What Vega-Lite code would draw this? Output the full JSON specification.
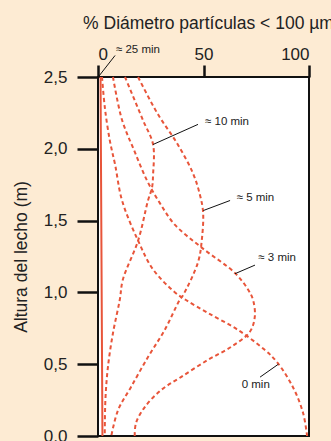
{
  "$schema": "https://vega.github.io/schema/vega-lite/v6.json",
  "width": 211,
  "height": 359,
  "autosize": {"type": "none"},
  "padding": {"left": 98, "top": 77, "right": 22, "bottom": 5},
  "background": "#FDEBD3",
  "config": {
    "view": {"fill": "white", "stroke": "#111", "strokeWidth": 2},
    "font": "Liberation Sans"
  },
  "datasets": {
    "curves": [
      {"s": "25", "o": 1, "x": 1.2, "y": 2.5},
      {"s": "25", "o": 2, "x": 2.1, "y": 0.0},

      {"s": "0", "o": 1, "x": 1.9, "y": 2.5},
      {"s": "0", "o": 2, "x": 3.3, "y": 2.28},
      {"s": "0", "o": 3, "x": 5.7, "y": 2.05},
      {"s": "0", "o": 4, "x": 8.1, "y": 1.89},
      {"s": "0", "o": 5, "x": 11.4, "y": 1.64},
      {"s": "0", "o": 6, "x": 19.0, "y": 1.36},
      {"s": "0", "o": 7, "x": 26.1, "y": 1.16},
      {"s": "0", "o": 8, "x": 36.5, "y": 1.0},
      {"s": "0", "o": 9, "x": 41.7, "y": 0.947},
      {"s": "0", "o": 10, "x": 52.1, "y": 0.857},
      {"s": "0", "o": 11, "x": 66.4, "y": 0.738},
      {"s": "0", "o": 12, "x": 79.0, "y": 0.6},
      {"s": "0", "o": 13, "x": 84.8, "y": 0.515},
      {"s": "0", "o": 14, "x": 92.4, "y": 0.34},
      {"s": "0", "o": 15, "x": 97.2, "y": 0.16},
      {"s": "0", "o": 16, "x": 99.1, "y": 0.0},

      {"s": "3", "o": 1, "x": 7.1, "y": 2.5},
      {"s": "3", "o": 2, "x": 11.4, "y": 2.2},
      {"s": "3", "o": 3, "x": 17.1, "y": 1.99},
      {"s": "3", "o": 4, "x": 23.2, "y": 1.78},
      {"s": "3", "o": 5, "x": 29.4, "y": 1.62},
      {"s": "3", "o": 6, "x": 36.5, "y": 1.47},
      {"s": "3", "o": 7, "x": 49.3, "y": 1.31},
      {"s": "3", "o": 8, "x": 64.9, "y": 1.135},
      {"s": "3", "o": 9, "x": 71.1, "y": 1.02},
      {"s": "3", "o": 10, "x": 73.5, "y": 0.947},
      {"s": "3", "o": 11, "x": 74.3, "y": 0.829},
      {"s": "3", "o": 12, "x": 71.9, "y": 0.724},
      {"s": "3", "o": 13, "x": 63.0, "y": 0.62},
      {"s": "3", "o": 14, "x": 52.1, "y": 0.53},
      {"s": "3", "o": 15, "x": 39.3, "y": 0.41},
      {"s": "3", "o": 16, "x": 29.9, "y": 0.32},
      {"s": "3", "o": 17, "x": 22.1, "y": 0.2},
      {"s": "3", "o": 18, "x": 18.0, "y": 0.09},
      {"s": "3", "o": 19, "x": 17.4, "y": 0.0},

      {"s": "5", "o": 1, "x": 19.0, "y": 2.5},
      {"s": "5", "o": 2, "x": 28.4, "y": 2.24},
      {"s": "5", "o": 3, "x": 37.4, "y": 2.04},
      {"s": "5", "o": 4, "x": 45.0, "y": 1.83},
      {"s": "5", "o": 5, "x": 48.3, "y": 1.68},
      {"s": "5", "o": 6, "x": 49.8, "y": 1.56},
      {"s": "5", "o": 7, "x": 49.3, "y": 1.38},
      {"s": "5", "o": 8, "x": 47.4, "y": 1.21},
      {"s": "5", "o": 9, "x": 40.3, "y": 0.98},
      {"s": "5", "o": 10, "x": 38.7, "y": 0.947},
      {"s": "5", "o": 11, "x": 31.6, "y": 0.738},
      {"s": "5", "o": 12, "x": 23.7, "y": 0.55},
      {"s": "5", "o": 13, "x": 15.6, "y": 0.34},
      {"s": "5", "o": 14, "x": 9.5, "y": 0.18},
      {"s": "5", "o": 15, "x": 6.3, "y": 0.0},

      {"s": "10", "o": 1, "x": 12.8, "y": 2.5},
      {"s": "10", "o": 2, "x": 21.3, "y": 2.2},
      {"s": "10", "o": 3, "x": 26.1, "y": 2.03},
      {"s": "10", "o": 4, "x": 26.1, "y": 1.82},
      {"s": "10", "o": 5, "x": 25.6, "y": 1.73},
      {"s": "10", "o": 6, "x": 23.7, "y": 1.64},
      {"s": "10", "o": 7, "x": 19.0, "y": 1.36},
      {"s": "10", "o": 8, "x": 11.8, "y": 1.09},
      {"s": "10", "o": 9, "x": 10.3, "y": 0.947},
      {"s": "10", "o": 10, "x": 7.1, "y": 0.717},
      {"s": "10", "o": 11, "x": 4.7, "y": 0.48},
      {"s": "10", "o": 12, "x": 3.5, "y": 0.25},
      {"s": "10", "o": 13, "x": 3.2, "y": 0.0}
    ],
    "pointers": [
      {"x": 0.1, "y": 2.5, "x2": 8.1, "y2": 2.65},
      {"x": 26.1, "y": 2.03, "x2": 47.4, "y2": 2.17},
      {"x": 49.9, "y": 1.57, "x2": 62.6, "y2": 1.64},
      {"x": 64.9, "y": 1.13, "x2": 74.4, "y2": 1.19},
      {"x": 85.5, "y": 0.5, "x2": 76.8, "y2": 0.41}
    ],
    "labels": [
      {"x": 8.5, "y": 2.685, "t": "≈ 25 min"},
      {"x": 50.7, "y": 2.19, "t": "≈ 10  min"},
      {"x": 65.7, "y": 1.66, "t": "≈ 5  min"},
      {"x": 76.0, "y": 1.24, "t": "≈ 3  min"},
      {"x": 68.1, "y": 0.355, "t": "0 min"}
    ]
  },
  "layer": [
    {
      "data": {"name": "curves"},
      "mark": {"type": "line", "color": "#E8553A", "strokeWidth": 2, "interpolate": "catmull-rom"},
      "encoding": {
        "x": {
          "field": "x", "type": "quantitative",
          "scale": {"domain": [0, 100], "nice": false, "zero": false},
          "axis": {
            "orient": "top", "values": [0, 50, 100], "grid": false, "domain": false,
            "tickSize": 12, "tickWidth": 2.5, "tickColor": "#111",
            "labelFontSize": 17, "labelColor": "#222", "labelPadding": 2, "labelFont": "Liberation Sans",
            "title": "% Diámetro partículas < 100 µm",
            "titleFontSize": 17.5, "titleFontWeight": "normal", "titleColor": "#222", "titleFont": "Liberation Sans",
            "titleX": 110, "titleY": -49, "titleAlign": "center", "titleBaseline": "alphabetic"
          }
        },
        "y": {
          "field": "y", "type": "quantitative",
          "scale": {"domain": [0, 2.5], "nice": false, "zero": false},
          "axis": {
            "values": [0, 0.5, 1, 1.5, 2, 2.5], "grid": false, "domain": false,
            "tickSize": 21, "tickWidth": 2.5, "tickColor": "#111",
            "labelFontSize": 17, "labelColor": "#222", "labelPadding": 10, "labelFont": "Liberation Sans",
            "labelExpr": "replace(format(datum.value, '.1f'), '.', ',')",
            "title": "Altura del lecho (m)",
            "titleFontSize": 17.5, "titleFontWeight": "normal", "titleColor": "#222", "titleFont": "Liberation Sans",
            "titleX": -77, "titleY": 179.5, "titleAngle": -90, "titleAlign": "center", "titleBaseline": "middle"
          }
        },
        "order": {"field": "o", "type": "quantitative"},
        "detail": {"field": "s"},
        "strokeDash": {
          "field": "s", "type": "nominal",
          "scale": {"domain": ["0", "3", "5", "10", "25"], "range": [[4, 3], [4, 3], [4, 3], [4, 3], [1, 0]]},
          "legend": null
        }
      }
    },
    {
      "data": {"name": "pointers"},
      "mark": {"type": "rule", "color": "#111", "strokeWidth": 1},
      "encoding": {
        "x": {"field": "x", "type": "quantitative"},
        "y": {"field": "y", "type": "quantitative"},
        "x2": {"field": "x2"},
        "y2": {"field": "y2"}
      }
    },
    {
      "data": {"name": "labels"},
      "mark": {"type": "text", "align": "left", "baseline": "middle", "fontSize": 11.5, "color": "#222", "font": "Liberation Sans"},
      "encoding": {
        "x": {"field": "x", "type": "quantitative"},
        "y": {"field": "y", "type": "quantitative"},
        "text": {"field": "t"}
      }
    }
  ]
}
